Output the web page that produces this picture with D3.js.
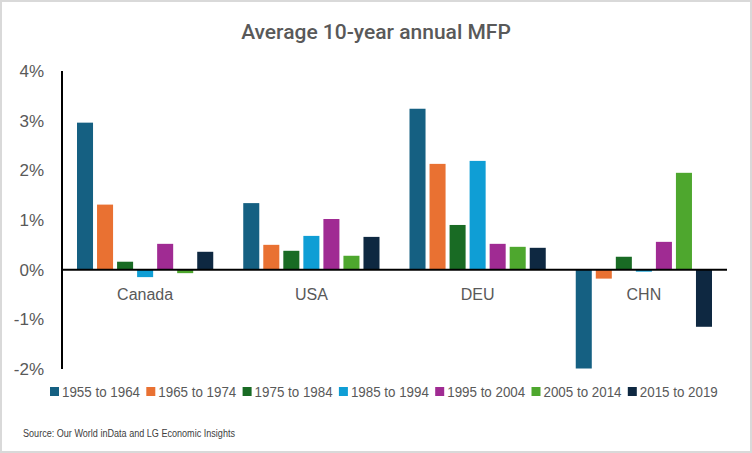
<!DOCTYPE html>
<html lang="en">
<head>
<meta charset="UTF-8">
<title>Average 10-year annual MFP</title>
<script src="https://d3js.org/d3.v7.min.js"></script>
<style>
  body { margin: 0; background: #fff; }
  svg { display: block; }
</style>
</head>
<body>
<svg id="chart" width="752" height="453"></svg>
<script>
// data (% per year)
const countries = ["Canada", "USA", "DEU", "CHN"];
const periods = ["1955 to 1964", "1965 to 1974", "1975 to 1984", "1985 to 1994",
                 "1995 to 2004", "2005 to 2014", "2015 to 2019"];
const canada = [2.96, 1.31, 0.16, -0.15, 0.52, -0.07, 0.36];
const usa    = [1.34, 0.50, 0.38, 0.68, 1.02, 0.28, 0.66];
const deu    = [3.24, 2.13, 0.90, 2.19, 0.52, 0.46, 0.44];
const chn    = [-1.99, -0.18, 0.26, -0.04, 0.56, 1.95, -1.15];
const yTicks = [-2, -1, 0, 1, 2, 3, 4];
const colors = ["#156082", "#E97132", "#196B24", "#0F9ED5", "#A02B93", "#4EA72E", "#0E2841"];

const values = [canada, usa, deu, chn];
const rows = [];
countries.forEach((c, i) => periods.forEach((p, j) => rows.push({country: c, period: p, value: values[i][j]})));

const svg = d3.select("#chart");
const W = 752, H = 453;
const font = "'Liberation Sans', Arial, sans-serif";

// outer border
svg.append("rect").attr("x", 1).attr("y", 1).attr("width", W - 2).attr("height", H - 2)
  .attr("fill", "#fff").attr("stroke", "#d9d9d9").attr("stroke-width", 2);

// title
svg.append("text")
  .attr("x", 376).attr("y", 39)
  .attr("text-anchor", "middle")
  .attr("font-family", "Roboto, 'Open Sans', sans-serif")
  .attr("font-weight", 500)
  .attr("font-size", 21)
  .attr("fill", "#595959")
  .text("Average 10-year annual MFP");

const x0 = d3.scaleBand().domain(countries).range([62, 727]);
const x1 = d3.scaleBand().domain(periods).range([15, x0.bandwidth() - 15]).paddingInner(0.2);
const y = d3.scaleLinear().domain([-2, 4]).range([369, 71]);

// y tick labels
svg.append("g").selectAll("text").data(yTicks).join("text")
  .attr("x", 44).attr("y", d => y(d))
  .attr("dy", "0.35em")
  .attr("text-anchor", "end")
  .attr("font-family", font)
  .attr("font-size", 17)
  .attr("fill", "#595959")
  .text(d => d + "%");

// bars
svg.append("g").selectAll("rect").data(rows).join("rect")
  .attr("x", d => x0(d.country) + x1(d.period))
  .attr("width", x1.bandwidth())
  .attr("y", d => y(Math.max(0, d.value)))
  .attr("height", d => Math.abs(y(d.value) - y(0)))
  .attr("fill", d => colors[periods.indexOf(d.period)]);

// axes lines
svg.append("line")
  .attr("x1", 62).attr("x2", 62).attr("y1", y(4)).attr("y2", y(-2))
  .attr("stroke", "#000").attr("stroke-width", 2);
svg.append("line")
  .attr("x1", 62).attr("x2", 727).attr("y1", y(0)).attr("y2", y(0))
  .attr("stroke", "#000").attr("stroke-width", 2);

// category labels
svg.append("g").selectAll("text").data(countries).join("text")
  .attr("x", d => x0(d) + x0.bandwidth() / 2)
  .attr("y", 300)
  .attr("text-anchor", "middle")
  .attr("font-family", font)
  .attr("font-size", 16)
  .attr("fill", "#595959")
  .text(d => d);

// legend
const legend = svg.append("g").selectAll("g").data(periods).join("g")
  .attr("transform", (d, i) => `translate(${50 + i * 96.3},392)`);
legend.append("rect")
  .attr("x", 0).attr("y", -5).attr("width", 9).attr("height", 9)
  .attr("fill", (d, i) => colors[i]);
legend.append("text")
  .attr("x", 12).attr("y", 0).attr("dy", "0.35em")
  .attr("font-family", font)
  .attr("font-size", 14)
  .attr("textLength", 78)
  .attr("lengthAdjust", "spacingAndGlyphs")
  .attr("fill", "#595959")
  .text(d => d);

// source
svg.append("text")
  .attr("x", 23).attr("y", 437)
  .attr("font-family", font)
  .attr("font-size", 10)
  .attr("textLength", 212)
  .attr("lengthAdjust", "spacingAndGlyphs")
  .attr("fill", "#404040")
  .text("Source: Our World inData and LG Economic Insights");
</script>
</body>
</html>
